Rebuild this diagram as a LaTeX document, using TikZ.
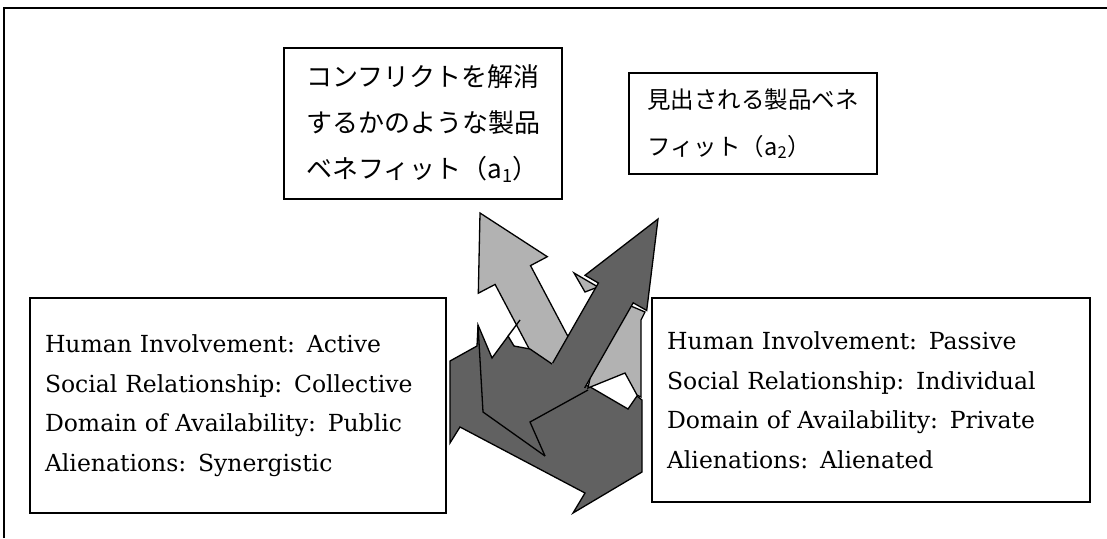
\documentclass[tikz,border=0pt]{standalone}
\usepackage{fontspec}
\setmainfont{DejaVu Serif}
\newfontfamily\jfont{Noto Sans CJK JP}
\begin{document}
\begin{tikzpicture}[x=1pt,y=-1pt,
  jbox/.style={draw, line width=1.4pt, align=left, inner sep=0pt},
  ebox/.style={draw, line width=1.4pt, align=left, inner xsep=15pt, inner ysep=0pt,
    font=\fontsize{23.5}{39.5}\selectfont},
  darkfill/.style={fill=black!62},
  dark/.style={fill=black!62, draw=black, line width=1.3pt, line join=miter},
  light/.style={fill=black!30, draw=black, line width=1.3pt, line join=miter},
  edge/.style={draw=black, line width=1.3pt, line join=miter}]

\useasboundingbox (0,0) rectangle (1107,538);
\draw[line width=1.8pt] (4,538) -- (4,8) -- (1107,8);

% boxes
\node[jbox, minimum width=278pt, minimum height=151pt,
  font=\jfont\fontsize{26}{46}\selectfont] (a1) at (423,123.5)
  {コンフリクトを解消\\するかのような製品\\ベネフィット（a\textsubscript{1}）};
\node[jbox, minimum width=248pt, minimum height=101pt,
  font=\jfont\fontsize{23.5}{47}\selectfont] (a2) at (753,123.5)
  {見出される製品ベネ\\フィット（a\textsubscript{2}）};
\node[ebox, text width=386pt, minimum height=215pt] (left) at (238,405.5)
  {Human Involvement: Active\\Social Relationship: Collective\\Domain of Availability: Public\\Alienations: Synergistic};
\node[ebox, text width=408pt, minimum height=204pt] (right) at (871,400)
  {Human Involvement: Passive\\Social Relationship: Individual\\Domain of Availability: Private\\Alienations: Alienated};

% light arrow pointing up-left
\path[light] (480,213) -- (547.3,256.7) -- (530.5,265.6) -- (586.6,371.8)
  -- (551.2,390.6) -- (495.1,284.4) -- (478.3,293.2) -- cycle;
% light sliver under the left barb of the up-right arrow
\path[light] (574,273) -- (598,287) -- (585,292) -- cycle;
% dark mass
\path[dark] (450,361) -- (477,346) -- (478,325) -- (492,358) -- (520,320)
  -- (508,336) -- (514,346) -- (530,349) -- (552,364) -- (575,380)
  -- (592,388) -- (628,409) -- (637,396) -- (642,400) -- (642,472)
  -- (573,513) -- (585,493) -- (460,427) -- (450,443) -- cycle;
% light piece on the right
\path[light] (612,298) -- (645,312) -- (641,320) -- (641,397) -- (637,395)
  -- (625,373) -- (588,388) -- (600,330) -- cycle;
% dark arrow pointing up-right
\path[darkfill] (658,219) -- (646.7,310.5) -- (633.2,302.8) -- (565.3,421.8)
  -- (530.5,402) -- (598.4,283) -- (585,275.3) -- cycle;
\draw[edge] (552.7,363) -- (598.4,283) -- (585,275.3) -- (658,219)
  -- (646.7,310.5) -- (633.2,302.8) -- (584.6,388);
% inner outlines
\draw[edge] (478,325) -- (483,412) -- (545,456);
\draw[edge] (545,456) -- (530,422) -- (588,390);
\end{tikzpicture}
\end{document}
